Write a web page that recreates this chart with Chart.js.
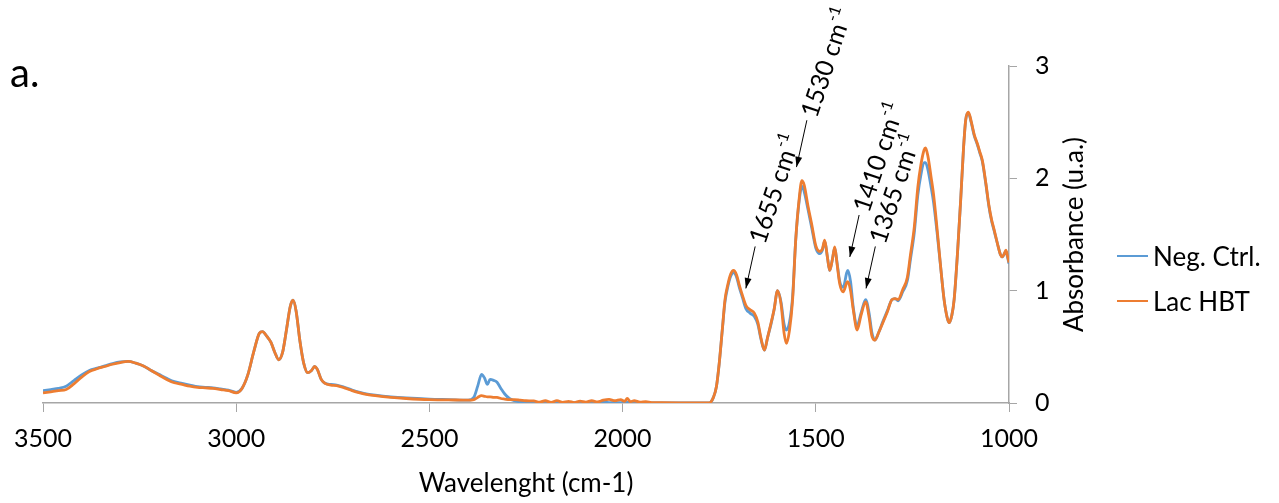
<!DOCTYPE html>
<html>
<head>
<meta charset="utf-8">
<script src="https://cdn.jsdelivr.net/npm/chart.js@4.4.1/dist/chart.umd.min.js"></script>
<style>
  html, body { margin: 0; padding: 0; background: #fff; }
  #wrap { width: 1279px; height: 503px; position: relative; }
</style>
</head>
<body>
<div id="wrap"><canvas id="c"></canvas></div>
<script>
// ---------------- DATA ----------------
const wavenumbers = [
  3500,3480,3460,3440,3420,3400,3380,3360,3340,3320,3300,3280,3260,3240,3220,3200,3180,3160,3140,3120,
  3100,3080,3060,3040,3020,3000,2985,2970,2955,2940,2932,2920,2910,2900,2890,2880,2870,2860,2853,2845,
  2835,2825,2815,2805,2797,2790,2780,2770,2755,2740,2720,2700,2680,2660,2640,2600,2560,2500,2450,2400,
  2385,2375,2365,2357,2350,2343,2333,2325,2315,2305,2293,2280,2265,2250,2230,2215,2200,2185,2170,2155,
  2140,2125,2110,2095,2080,2065,2050,2035,2020,2005,1995,1988,1980,1970,1955,1940,1925,1900,1850,1800,
  1775,1765,1757,1750,1742,1735,1728,1720,1713,1705,1698,1690,1681,1670,1659,1650,1642,1633,1625,1616,
  1608,1599,1590,1582,1576,1568,1560,1552,1543,1536,1530,1520,1510,1500,1490,1483,1477,1470,1464,1457,
  1451,1445,1438,1429,1420,1417,1410,1403,1393,1383,1371,1362,1355,1347,1337,1327,1315,1303,1295,1287,
  1275,1263,1255,1245,1236,1228,1220,1216,1210,1202,1195,1185,1176,1168,1160,1155,1148,1142,1133,1125,
  1118,1112,1105,1098,1090,1082,1075,1069,1060,1052,1045,1039,1030,1022,1017,1012,1008,1004,1000
];
const negCtrl = [
  0.11,0.12,0.13,0.15,0.20,0.25,0.29,0.31,0.33,0.35,0.365,0.37,0.355,0.33,0.29,0.255,0.22,0.19,0.175,0.16,
  0.145,0.14,0.135,0.125,0.115,0.095,0.13,0.25,0.45,0.62,0.635,0.59,0.54,0.45,0.385,0.45,0.65,0.86,0.915,0.82,
  0.55,0.35,0.27,0.29,0.325,0.30,0.21,0.175,0.165,0.16,0.14,0.115,0.095,0.08,0.07,0.055,0.045,0.035,0.03,0.025,
  0.05,0.15,0.255,0.22,0.165,0.21,0.20,0.185,0.13,0.08,0.04,0.02,0.01,0.005,0.003,0.002,0.006,0.003,0.004,0.002,
  0.003,0.004,0.003,0.002,0.004,0.003,0.005,0.004,0.003,0.004,0.003,0.005,0.004,0.003,0.002,0.002,0.001,0.001,0.0,0.0,
  0.002,0.05,0.15,0.35,0.65,0.90,1.03,1.13,1.16,1.12,1.03,0.94,0.84,0.80,0.77,0.70,0.57,0.47,0.58,0.70,
  0.83,1.00,0.90,0.70,0.65,0.72,0.95,1.45,1.80,1.93,1.88,1.72,1.55,1.38,1.33,1.36,1.44,1.30,1.18,1.28,
  1.38,1.25,1.08,1.03,1.16,1.18,1.08,0.85,0.69,0.80,0.92,0.80,0.63,0.56,0.63,0.72,0.82,0.92,0.93,0.91,
  0.99,1.09,1.28,1.52,1.85,2.03,2.14,2.14,2.08,1.93,1.78,1.48,1.18,0.92,0.76,0.715,0.78,0.92,1.35,1.81,
  2.25,2.52,2.58,2.50,2.38,2.30,2.22,2.15,1.95,1.75,1.62,1.54,1.42,1.32,1.30,1.33,1.35,1.30,1.24
];
const lacHBT = [
  0.09,0.10,0.11,0.12,0.17,0.23,0.28,0.305,0.325,0.345,0.36,0.37,0.355,0.33,0.29,0.25,0.21,0.18,0.165,0.15,
  0.14,0.135,0.13,0.12,0.11,0.09,0.13,0.25,0.45,0.62,0.635,0.59,0.54,0.45,0.385,0.45,0.65,0.86,0.915,0.82,
  0.55,0.35,0.27,0.29,0.325,0.30,0.21,0.175,0.16,0.155,0.135,0.11,0.09,0.075,0.065,0.05,0.04,0.03,0.028,0.025,
  0.03,0.05,0.065,0.06,0.055,0.055,0.05,0.05,0.04,0.035,0.03,0.03,0.025,0.02,0.018,0.008,0.02,0.005,0.022,0.006,
  0.015,0.004,0.017,0.008,0.02,0.01,0.025,0.032,0.02,0.03,0.015,0.04,0.012,0.02,0.008,0.012,0.004,0.003,0.002,0.0,
  0.002,0.05,0.15,0.35,0.65,0.92,1.05,1.15,1.18,1.14,1.05,0.96,0.87,0.83,0.80,0.72,0.58,0.47,0.58,0.71,
  0.83,1.00,0.88,0.62,0.53,0.65,0.92,1.45,1.82,1.98,1.94,1.75,1.58,1.40,1.35,1.37,1.45,1.30,1.18,1.28,
  1.39,1.24,1.06,0.99,1.07,1.08,1.00,0.83,0.65,0.78,0.90,0.76,0.60,0.56,0.63,0.71,0.81,0.92,0.93,0.92,
  1.01,1.12,1.32,1.57,1.92,2.12,2.25,2.27,2.20,2.02,1.85,1.51,1.18,0.92,0.76,0.715,0.78,0.92,1.35,1.81,
  2.25,2.52,2.59,2.51,2.39,2.31,2.23,2.16,1.96,1.76,1.63,1.55,1.42,1.32,1.30,1.33,1.36,1.31,1.25
];
const seriesNames = ['Neg. Ctrl.', 'Lac HBT'];
const xTickValues = [3500, 3000, 2500, 2000, 1500, 1000];
const yTickValues = [0, 1, 2, 3];
const xTitle = 'Wavelenght (cm-1)';
const yTitle = 'Absorbance (u.a.)';
const panelLabel = 'a.';
// annotated bands: label, arrow tip (wavenumber, absorbance)
const bandLabels = ['1655', '1530', '1410', '1365'];
const bandTipX = [1681, 1550, 1412, 1370];
const bandTipY = [1.02, 2.10, 1.30, 1.02];

// ---------------- STYLE ----------------
const BLUE = '#5B9BD5', ORANGE = '#ED7D31', AXIS = '#A6A6A6';
const FONT = 'Lato, "Open Sans", sans-serif';

const toPts = arr => wavenumbers.map((w, i) => ({ x: w, y: arr[i] }));

const customDraw = {
  id: 'customDraw',
  afterDraw(chart) {
    const ctx = chart.ctx;
    const xs = chart.scales.x, ys = chart.scales.y;
    ctx.save();
    ctx.fillStyle = '#000';
    // panel label
    ctx.font = '40px ' + FONT;
    ctx.textAlign = 'left';
    ctx.textBaseline = 'alphabetic';
    ctx.fillText(panelLabel, 10, 87);

    // y title (reads bottom to top)
    ctx.save();
    ctx.font = '26px ' + FONT;
    ctx.translate(ys.left + 74, (chart.chartArea.top + chart.chartArea.bottom) / 2);
    ctx.rotate(-Math.PI / 2);
    ctx.textAlign = 'center';
    ctx.textBaseline = 'alphabetic';
    ctx.fillText(yTitle, 0, 0);
    ctx.restore();

    // legend
    const cols = [BLUE, ORANGE];
    const legY = [256, 301];
    seriesNames.forEach((n, i) => {
      ctx.strokeStyle = cols[i];
      ctx.lineWidth = 2;
      ctx.beginPath();
      ctx.moveTo(ys.left + 108, legY[i]);
      ctx.lineTo(ys.left + 139, legY[i]);
      ctx.stroke();
      ctx.font = '26px ' + FONT;
      ctx.textAlign = 'left';
      ctx.textBaseline = 'alphabetic';
      ctx.fillText(n, ys.left + 144, legY[i] + 9.5);
    });

    // band annotations
    const tAng = -71.5 * Math.PI / 180;
    const aAng = -77.5 * Math.PI / 180;
    const aLen = 43;
    bandLabels.forEach((lab, i) => {
      const tx = xs.getPixelForValue(bandTipX[i]);
      const ty = ys.getPixelForValue(bandTipY[i]);
      const len = i === 1 ? 48 : aLen;
      const sx = tx + len * Math.cos(aAng);
      const sy = ty + len * Math.sin(aAng);
      ctx.strokeStyle = '#000';
      ctx.fillStyle = '#000';
      ctx.lineWidth = 1;
      ctx.beginPath();
      ctx.moveTo(sx, sy);
      ctx.lineTo(tx, ty);
      ctx.stroke();
      // arrow head
      const back = Math.atan2(sy - ty, sx - tx);
      const hl = 11, hw = 0.32;
      ctx.beginPath();
      ctx.moveTo(tx, ty);
      ctx.lineTo(tx + hl * Math.cos(back + hw), ty + hl * Math.sin(back + hw));
      ctx.lineTo(tx + hl * Math.cos(back - hw), ty + hl * Math.sin(back - hw));
      ctx.closePath();
      ctx.fill();
      // rotated text
      ctx.save();
      ctx.translate(sx + 4 * Math.cos(tAng) + 1, sy + 4 * Math.sin(tAng));
      ctx.rotate(tAng);
      ctx.textAlign = 'left';
      ctx.textBaseline = 'middle';
      ctx.font = '25px ' + FONT;
      const main = lab + ' cm';
      ctx.fillText(main, 0, 0);
      const w = ctx.measureText(main).width;
      ctx.font = '16px ' + FONT;
      ctx.fillText('-1', w + 1, -9);
      ctx.restore();
    });
    ctx.restore();
  }
};

new Chart(document.getElementById('c'), {
  type: 'line',
  data: {
    datasets: [
      { label: seriesNames[0], data: toPts(negCtrl), borderColor: BLUE, backgroundColor: BLUE,
        borderWidth: 2.8, pointRadius: 0, cubicInterpolationMode: 'monotone', order: 1 },
      { label: seriesNames[1], data: toPts(lacHBT), borderColor: ORANGE, backgroundColor: ORANGE,
        borderWidth: 2.8, pointRadius: 0, cubicInterpolationMode: 'monotone', order: 0 }
    ]
  },
  options: {
    responsive: true,
    maintainAspectRatio: false,
    animation: false,
    layout: { padding: { left: 43, top: 66, right: 0, bottom: 0 } },
    plugins: { legend: { display: false }, tooltip: { enabled: false } },
    scales: {
      x: {
        type: 'linear',
        reverse: true,
        min: 1000, max: 3500,
        afterBuildTicks: s => { s.ticks = xTickValues.map(v => ({ value: v })); },
        afterFit: s => { s.height = 100; },
        grid: { drawOnChartArea: false, drawTicks: true, tickLength: 9, color: AXIS },
        border: { display: true, color: AXIS, width: 1.5 },
        ticks: { color: '#000', font: { family: FONT, size: 25 }, padding: 12, maxRotation: 0, autoSkip: false,
                 callback: v => String(v) },
        title: { display: true, text: xTitle, color: '#000', font: { family: FONT, size: 26 }, padding: { top: 4, bottom: 4 } }
      },
      y: {
        position: 'right',
        min: 0, max: 3,
        afterBuildTicks: s => { s.ticks = yTickValues.map(v => ({ value: v })); },
        afterFit: s => { s.width = 270; },
        grid: { drawOnChartArea: false, drawTicks: true, tickLength: 8, color: AXIS },
        border: { display: true, color: AXIS, width: 1.5 },
        ticks: { color: '#000', font: { family: FONT, size: 25 }, padding: 18, callback: v => String(v) }
      }
    }
  },
  plugins: [customDraw]
});
</script>
</body>
</html>
